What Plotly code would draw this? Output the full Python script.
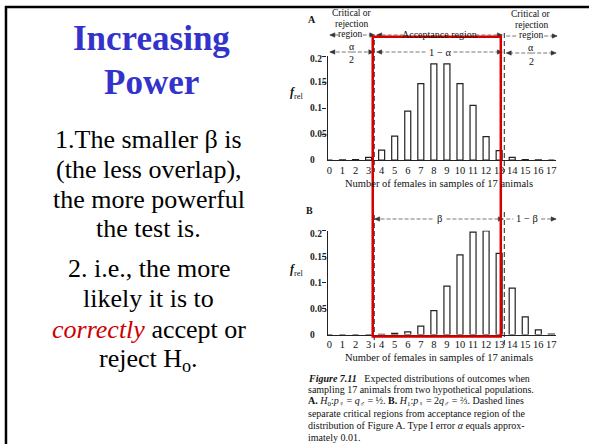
import plotly.graph_objects as go

# ---------------- data ----------------
categories = list(range(18))
tick_labels = [str(c) for c in categories]
# Figure A: H0 distribution (relative frequency)
freq_h0 = [0.0, 0.0002, 0.001, 0.005, 0.019, 0.046, 0.094, 0.147, 0.185,
           0.185, 0.147, 0.105, 0.045, 0.018, 0.005, 0.001, 0.0002, 0.0]
# Figure B: H1 distribution (relative frequency)
freq_h1 = [0.0, 0.0, 0.0, 0.0, 0.0005, 0.002, 0.005, 0.016, 0.046,
           0.093, 0.153, 0.197, 0.199, 0.156, 0.089, 0.034, 0.009, 0.001]
y_ticks = [0, 0.05, 0.1, 0.15, 0.2]
y_tick_labels = ["0", "0.05", "0.1", "0.15", "0.2"]

title_lines = ["Increasing", "Power"]
body_lines = [
    "1.The smaller β is",
    "(the less overlap),",
    "the more powerful",
    "the test is.",
    "2. i.e., the more",
    "likely it is to",
    '<span style="color:#cc0000"><i>correctly</i></span> accept or',
    "reject H<sub>o</sub>.",
]
caption_lines = [
    "<b><i>Figure 7.11</i></b>   Expected distributions of outcomes when",
    "sampling 17 animals from two hypothetical populations.",
    "<b>A.</b> <i>H</i><sub>0</sub>:<i>p</i><sub>♀</sub> = <i>q</i><sub>♂</sub> = ½. "
    "<b>B.</b> <i>H</i><sub>1</sub>:<i>p</i><sub>♀</sub> = 2<i>q</i><sub>♂</sub> = ⅔. Dashed lines",
    "separate critical regions from acceptance region of the",
    "distribution of Figure A. Type I error <i>α</i> equals approx-",
    "imately 0.01.",
]
x_title = "Number of females in samples of 17 animals"

# ---------------- helpers ----------------
W, H = 590, 444
SERIF = "Liberation Serif, Times New Roman, serif"


def px(x):
    return x / W


def py(y):
    return 1 - y / H


annotations = []
shapes = []


def txt(x, y, text, size, color="#111", xanchor="center", family=SERIF, yref="paper"):
    annotations.append(dict(
        x=px(x), y=(py(y) if yref == "paper" else y), xref="paper", yref=yref,
        text=text, showarrow=False, xanchor=xanchor, yanchor="middle",
        font=dict(size=size, color=color, family=family)))


def line(x0, y0, x1, y1, color="#444", width=0.8, dash="dash"):
    shapes.append(dict(type="line", xref="paper", yref="paper",
                       x0=px(x0), y0=py(y0), x1=px(x1), y1=py(y1),
                       line=dict(color=color, width=width, dash=dash)))


def arrow(x_from, x_to, y, head=True):
    line(x_from, y, x_to, y, color="#555", width=0.8, dash="4px,2px")
    if head:
        d = 1 if x_to > x_from else -1
        tip = (px(x_to), py(y))
        back = px(x_to - d * 5)
        hy = 2.2 / H
        path = "M %f,%f L %f,%f L %f,%f Z" % (tip[0], tip[1], back, tip[1] + hy, back, tip[1] - hy)
        shapes.append(dict(type="path", xref="paper", yref="paper", path=path,
                           fillcolor="#333", line=dict(color="#333", width=0.5)))


# ---------------- figure ----------------
fig = go.Figure()
bar_style = dict(color="white", line=dict(color="#222", width=1.2))
fig.add_trace(go.Bar(x=categories, y=freq_h0, width=0.46, marker=bar_style,
                     xaxis="x", yaxis="y", hoverinfo="x+y", cliponaxis=False,
                     textposition="none"))
fig.add_trace(go.Bar(x=categories, y=freq_h1, width=0.46, marker=bar_style,
                     xaxis="x2", yaxis="y2", hoverinfo="x+y", cliponaxis=False,
                     textposition="none"))

xdom = [px(327.7), px(556.7)]
xcommon = dict(domain=xdom, range=[-0.14, 17.34], showline=True, linecolor="#222",
               linewidth=1.2, ticks="", tickvals=categories, ticktext=tick_labels,
               tickfont=dict(size=10.5, family=SERIF, color="#111"),
               showgrid=False, zeroline=False, fixedrange=True)
ycommon = dict(range=[0, 0.2], showline=True, linecolor="#222", linewidth=1.2,
               ticks="outside", ticklen=4, tickwidth=1, tickcolor="#222",
               tickvals=y_ticks[1:], showticklabels=False, showgrid=False,
               zeroline=False, fixedrange=True)

fig.update_layout(
    width=W, height=H, margin=dict(l=0, r=0, t=0, b=0),
    paper_bgcolor="white", plot_bgcolor="white", showlegend=False,
    xaxis=dict(anchor="y", **xcommon),
    yaxis=dict(anchor="x", domain=[py(160), py(56)], **ycommon),
    xaxis2=dict(anchor="y2", **xcommon),
    yaxis2=dict(anchor="x2", domain=[py(334.5), py(230.5)], **ycommon),
)

# y tick labels (left aligned like the scan)
for v, lab in zip(y_ticks, y_tick_labels):
    for yr in ("y", "y2"):
        annotations.append(dict(x=px(308), y=v, yshift=(-3 if v == 0.2 else 0), xref="paper",
                                yref=yr, text="<b>%s</b>" % lab,
                                showarrow=False, xanchor="left", yanchor="middle",
                                font=dict(size=9.5, family=SERIF, color="#222")))

# panel letters and axis labels
txt(312, 20, "<b>A</b>", 10)
txt(310, 210, "<b>B</b>", 10)
txt(297, 93, "<b><i>f</i></b><sub>rel</sub>", 12)
txt(297, 270, "<b><i>f</i></b><sub>rel</sub>", 12)
txt(439, 183, x_title, 10.5)
txt(439, 357, x_title, 10.5)

# header of A
txt(352, 13, "Critical or", 9.5)
txt(352, 24, "rejection", 9.5)
txt(351, 34, "region", 9.5)
arrow(339, 330, 35)
arrow(363, 375, 35)
txt(532, 14, "Critical or", 9.5)
txt(532, 25, "rejection", 9.5)
txt(532, 35, "region", 9.5)
arrow(507, 519, 36, head=False)
arrow(545, 558, 36)
txt(440, 34, "Acceptance region", 10)
arrow(404, 377, 35)
arrow(476, 503, 35)
# alpha/2 and 1-alpha row
txt(352, 46, "α", 10)
txt(352, 60, "2", 10)
arrow(352, 330, 52)
arrow(352, 374, 52)
txt(532, 47, "α", 10)
txt(532, 61, "2", 10)
arrow(532, 507, 53)
arrow(532, 557, 53)
txt(440, 52, "1 − α", 10.5)
arrow(426, 377, 52)
arrow(454, 503, 52)
# beta row of B
txt(440, 219, "β", 10.5)
arrow(433, 375, 219)
arrow(447, 504, 219)
txt(528, 219, "1 − β", 10.5)
arrow(507, 514, 219, head=False)
arrow(542, 557, 219)

# dashed critical-value lines
line(374.5, 40, 374.5, 172, color="#222", width=1, dash="5px,3px")
line(505, 33, 505, 172, color="#222", width=1, dash="5px,3px")
line(374.5, 215, 374.5, 348, color="#222", width=1, dash="5px,3px")
line(505, 212, 505, 348, color="#222", width=1, dash="5px,3px")

# red highlight rectangle
shapes.append(dict(type="rect", xref="paper", yref="paper",
                   x0=px(373), x1=px(501.5), y0=py(336.5), y1=py(36.7),
                   line=dict(color="#d40000", width=2.5), fillcolor="rgba(0,0,0,0)",
                   layer="above"))

# caption
for i, cl in enumerate(caption_lines):
    txt(306.5, 378 + 11.9 * i, cl, 10, xanchor="left")

# slide border
line(4, 7, 590, 7, color="#000", width=2.5, dash="solid")
line(5, 6, 5, 444, color="#000", width=2.5, dash="solid")

# left-hand text
txt(151.5, 39, "<b>%s</b>" % title_lines[0], 35, color="#3333cc")
txt(151.5, 82, "<b>%s</b>" % title_lines[1], 35, color="#3333cc")
body_y = [139, 169, 199, 229, 268, 298, 329, 360]
for yy, bl in zip(body_y, body_lines):
    txt(148.5, yy, bl, 26, color="#000")

fig.update_layout(annotations=annotations, shapes=shapes)

fig.write_html("out.html", post_script="document.body.style.margin='0';",
               config={"displayModeBar": False})
